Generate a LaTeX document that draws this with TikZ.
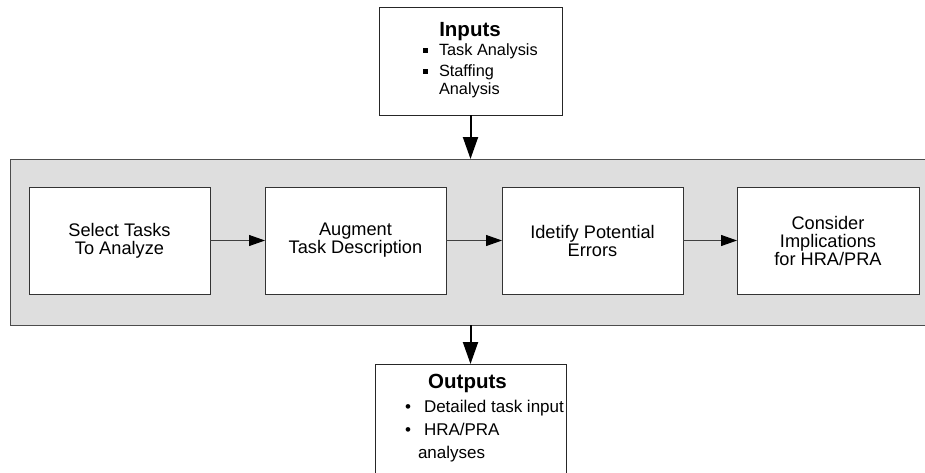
\documentclass[tikz,border=0pt]{standalone}
\usepackage{fontspec}
\setmainfont{Liberation Sans}
\usetikzlibrary{arrows.meta}

\begin{document}
\begin{tikzpicture}[x=1pt,y=-1pt,
  every node/.style={inner sep=0pt, outer sep=0pt},
  panelbox/.style={draw=black!70, fill=black!13, line width=1pt},
  stepbox/.style={draw=black!80, fill=white, line width=0.9pt,
    minimum width=181pt, minimum height=107pt, align=center,
    font=\fontsize{18.2}{18}\selectfont},
  iobox/.style={draw=black!85, fill=white, line width=1pt},
  flow/.style={draw=black!75, line width=1pt,
    -{Triangle[length=16pt,width=11pt,color=black]}},
  bigflow/.style={draw=black, line width=2pt, -{Triangle[length=22pt,width=15pt]}},
  title/.style={font=\bfseries\fontsize{20.5}{21}\selectfont, anchor=base},
  initem/.style={font=\fontsize{16.3}{17}\selectfont, anchor=base west},
  outitem/.style={font=\fontsize{17}{17}\selectfont, anchor=base west},
  sqbullet/.style={fill=black, minimum size=5pt, inner sep=0pt},
]
\useasboundingbox (0,0) rectangle (925,472);
\clip (0,0) rectangle (925,472);

% grey process band
\node[panelbox, minimum width=935pt, minimum height=166pt] (panel) at (477.5,242) {};

% process steps
\node[stepbox] (s1) at (119.5,240.5) {Select Tasks\\To Analyze};
\node[stepbox] (s2) at (355.5,240.5) {Augment\\Task Description};
\node[stepbox] (s3) at (592.5,240.5) {Idetify Potential\\Errors};
\node[stepbox, minimum width=182pt] (s4) at (828,240.5) {Consider\\Implications\\for HRA/PRA};

\draw[flow] (s1) -- (s2);
\draw[flow] (s2) -- (s3);
\draw[flow] (s3) -- (s4);

% inputs
\node[iobox, minimum width=183pt, minimum height=108pt] (inputs) at (470.5,61) {};
\node[title] (intitle) at (470,36) {Inputs};
\node[sqbullet] (ib1) at (425.5,50) {};
\node[initem] (in1) at (439,55) {Task Analysis};
\node[sqbullet] (ib2) at (425.5,71) {};
\node[initem] (in2) at (439,76) {Staffing};
\node[initem] (in3) at (439,94) {Analysis};

% outputs
\node[iobox, minimum width=191pt, minimum height=116pt] (outputs) at (470.5,422) {};
\node[title] (outtitle) at (467.5,388) {Outputs};
\node[outitem] (ob1) at (405,412) {\textbullet};
\node[outitem] (out1) at (424,412) {Detailed task input};
\node[outitem] (ob2) at (405,435) {\textbullet};
\node[outitem] (out2) at (424,435) {HRA/PRA};
\node[outitem] (out3) at (418,458) {analyses};

\draw[bigflow] (inputs.south) -- (inputs.south |- panel.north);
\draw[bigflow] (outputs.north |- panel.south) -- (outputs.north);
\end{tikzpicture}
\end{document}
